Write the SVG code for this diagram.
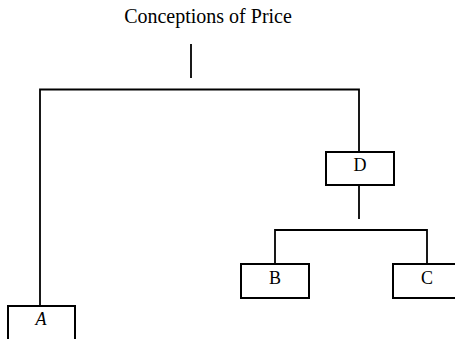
<svg xmlns="http://www.w3.org/2000/svg" width="455" height="339" viewBox="0 0 455 339">
<style>
.box{fill:#fff;stroke:#000;stroke-width:2}
.ln{fill:none;stroke:#000;stroke-width:1.8}
.t{font-family:"Liberation Serif","Times New Roman",serif;font-size:18px;fill:#000;text-anchor:middle}
.title{font-family:"Liberation Serif","Times New Roman",serif;font-size:20px;fill:#000;text-anchor:middle}
</style>
<rect width="455" height="339" fill="#fff"/>
<text class="title" x="208" y="23">Conceptions of Price</text>
<g id="connectors">
<line class="ln" x1="191" y1="44" x2="191" y2="78"/>
<polyline class="ln" points="40,306 40,89.5 359,89.5 359,152"/>
<line class="ln" x1="359" y1="185" x2="359" y2="219"/>
<polyline class="ln" points="275,264 275,230 427,230 427,264"/>
</g>
<g id="D">
<rect class="box" x="326" y="152" width="68" height="33"/>
<text class="t" x="360" y="171">D</text>
</g>
<g id="B">
<rect class="box" x="241" y="264" width="68" height="34"/>
<text class="t" x="275" y="284">B</text>
</g>
<g id="C">
<rect class="box" x="393" y="264" width="68" height="34"/>
<text class="t" x="427" y="284">C</text>
</g>
<g id="A">
<rect class="box" x="8" y="306" width="67" height="40"/>
<text class="t" x="41" y="325" font-style="italic">A</text>
</g>
</svg>
